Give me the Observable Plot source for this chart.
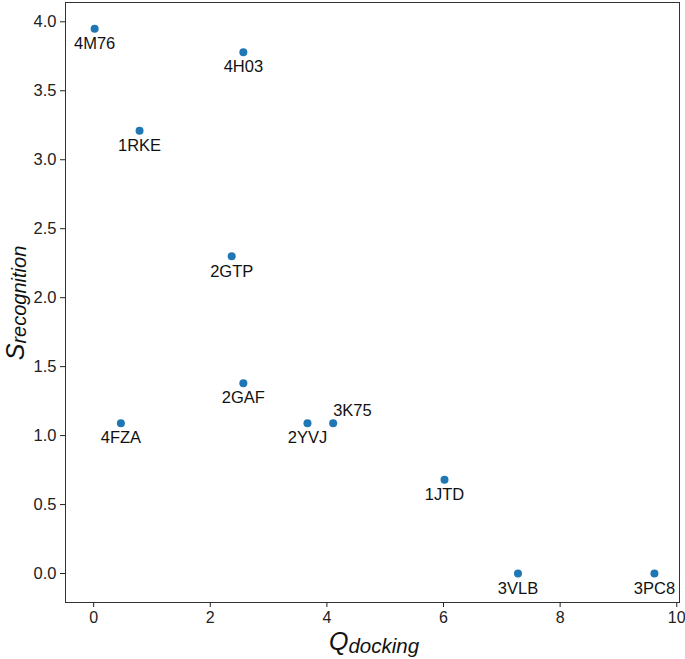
<!DOCTYPE html>
<html><head><meta charset="utf-8">
<script src="https://cdn.jsdelivr.net/npm/d3@7"></script>
<script src="https://cdn.jsdelivr.net/npm/@observablehq/plot@0.6"></script>
<style>body{margin:0;background:#fff;} svg{display:block;}</style>
</head><body><div id="chart"></div>
<script>
const names = ["4M76","4H03","1RKE","2GTP","2GAF","4FZA","2YVJ","3K75","1JTD","3VLB","3PC8"];
const qDocking = [0, 2.55, 0.77, 2.35, 2.55, 0.45, 3.65, 4.09, 6.0, 7.26, 9.6];
const sRecognition = [3.95, 3.78, 3.21, 2.30, 1.38, 1.09, 1.09, 1.09, 0.68, 0, 0];
const aboveLabels = ["3K75"];
const xTicks = [0,2,4,6,8,10];
const yTicks = [0,0.5,1,1.5,2,2.5,3,3.5,4];

const data = names.map((n,i)=>({name:n, q:qDocking[i], s:sRecognition[i]}));
const below = data.filter(d=>!aboveLabels.includes(d.name));
const above = data.filter(d=>aboveLabels.includes(d.name));
const font = "Liberation Sans, Arial, Helvetica, sans-serif";

const chart = Plot.plot({
  width: 685, height: 659,
  marginLeft: 65, marginRight: 6, marginTop: 2, marginBottom: 57,
  style: {fontFamily: font, fontSize: "16px", color: "#222", background: "#fff"},
  x: {domain: [-0.5, 10.03], label: null},
  y: {domain: [-0.21, 4.14], label: null},
  marks: [
    Plot.frame({stroke: "#333", strokeWidth: 1}),
    Plot.axisX({ticks: xTicks, tickFormat: d=>d.toFixed(0), label: null, tickSize: 5, tickPadding: 4, fontSize: 16, dx: -1}),
    Plot.axisY({ticks: yTicks, tickFormat: d=>d.toFixed(1), label: null, tickSize: 5, tickPadding: 4, fontSize: 16.5}),
    Plot.dot(data, {x:"q", y:"s", r: 4, fill: "#1f77b4", stroke: "none"}),
    Plot.text(below, {x:"q", y:"s", text:"name", dy: 15, fontSize: 16.5, fill: "#111", textAnchor: "middle"}),
    Plot.text(above, {x:"q", y:"s", text:"name", dy: -12, dx: 0, fontSize: 16.5, fill: "#111", textAnchor: "start"})
  ]
});
document.getElementById("chart").appendChild(chart);

const svg = d3.select(chart);
const xl = svg.append("text").attr("x", 374).attr("y", 650).attr("text-anchor","middle")
  .attr("font-family", font).attr("fill","#111");
xl.append("tspan").attr("font-size", 25).attr("font-style","italic").text("Q");
xl.append("tspan").attr("font-size", 20.5).attr("font-style","italic").attr("dy", 3).text("docking");

const yl = svg.append("text").attr("transform","translate(24,303) rotate(-90)").attr("text-anchor","middle")
  .attr("font-family", font).attr("fill","#111");
yl.append("tspan").attr("font-size", 25).attr("font-style","italic").text("S");
yl.append("tspan").attr("font-size", 20).attr("font-style","italic").attr("dy", 2).text("recognition");
</script></body></html>
